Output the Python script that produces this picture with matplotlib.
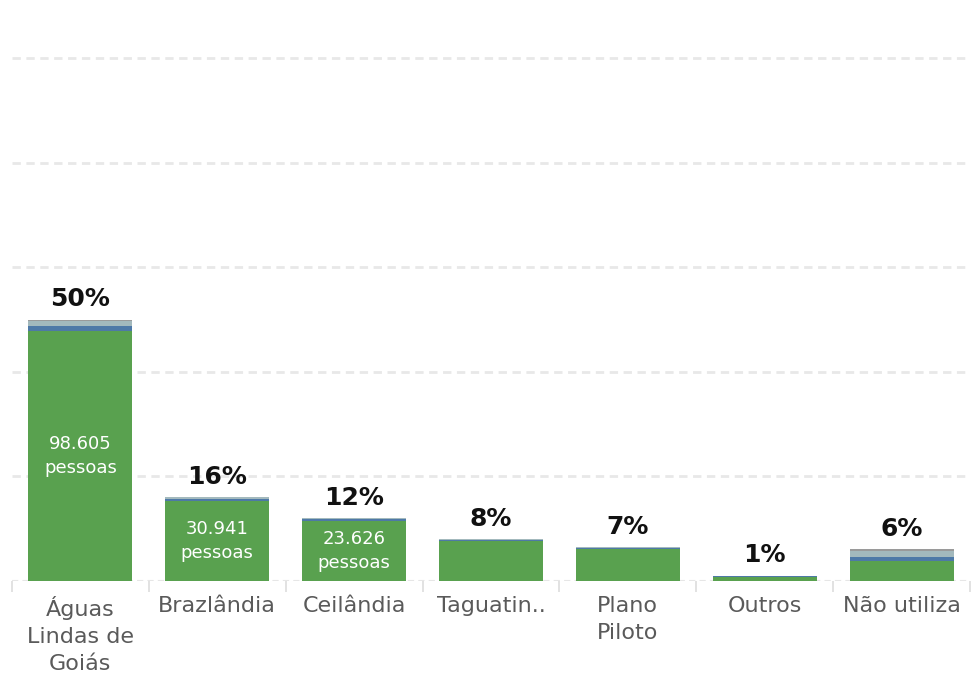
import matplotlib.pyplot as plt
from matplotlib.ticker import FixedLocator

plt.rcParams['font.family'] = ['DejaVu Sans']

# categorias e valores (fração do total)
categorias = ['Águas\nLindas de\nGoiás', 'Brazlândia', 'Ceilândia', 'Taguatin..',
              'Plano\nPiloto', 'Outros', 'Não utiliza']
verde = [0.478, 0.153, 0.115, 0.077, 0.062, 0.008, 0.038]
azul = [0.010, 0.004, 0.003, 0.002, 0.002, 0.001, 0.007]
cinza_claro = [0.010, 0.003, 0.002, 0.001, 0.001, 0.001, 0.013]
cinza = [0.002, 0.000, 0.000, 0.000, 0.000, 0.000, 0.003]
percentuais = ['50%', '16%', '12%', '8%', '7%', '1%', '6%']
pessoas = ['98.605\npessoas', '30.941\npessoas', '23.626\npessoas', '', '', '', '']

cores = ['#59a14f', '#4e79a7', '#a3b9bd', '#9a9a9a']

fig = plt.figure(figsize=(9.71, 6.78), dpi=100)
ax = fig.add_axes([12 / 971, 1 - 581 / 678, 958 / 971, (581 - 58) / 678])

x = list(range(len(categorias)))
largura = 0.76
base = [0.0] * len(x)
for serie, cor in zip([verde, azul, cinza_claro, cinza], cores):
    ax.bar(x, serie, width=largura, bottom=base, color=cor, zorder=3)
    base = [b + s for b, s in zip(base, serie)]

for i in x:
    ax.annotate(percentuais[i], (i, base[i]), xytext=(0, 6), textcoords='offset points',
                ha='center', va='bottom', fontsize=18, fontweight='bold', color='#111111')
    if pessoas[i]:
        ax.text(i, verde[i] / 2, pessoas[i], ha='center', va='center', color='white',
                fontsize=13, linespacing=1.45, zorder=4)

ax.set_xlim(-0.5, len(x) - 0.5)
ax.set_ylim(0, 1.0)
for y in [0.2, 0.4, 0.6, 0.8, 1.0]:
    ax.axhline(y, color='#e8e8e8', lw=2, ls=(0, (3, 2)), zorder=1, clip_on=False)
ax.axhline(0, color='#e6e6e6', lw=1.5, ls=(0, (3, 2)), zorder=2)

for s in ax.spines.values():
    s.set_visible(False)
ax.set_yticks([])
ax.set_xticks(x)
ax.set_xticklabels(categorias, fontsize=16, color='#5a5a5a', linespacing=1.42)
ax.tick_params(axis='x', which='major', length=0, pad=11)
ax.xaxis.set_minor_locator(FixedLocator([i - 0.5 for i in range(len(x) + 1)]))
ax.tick_params(axis='x', which='minor', length=8, width=1.2, color='#dddddd')

fig.savefig('out.png', dpi=100)
